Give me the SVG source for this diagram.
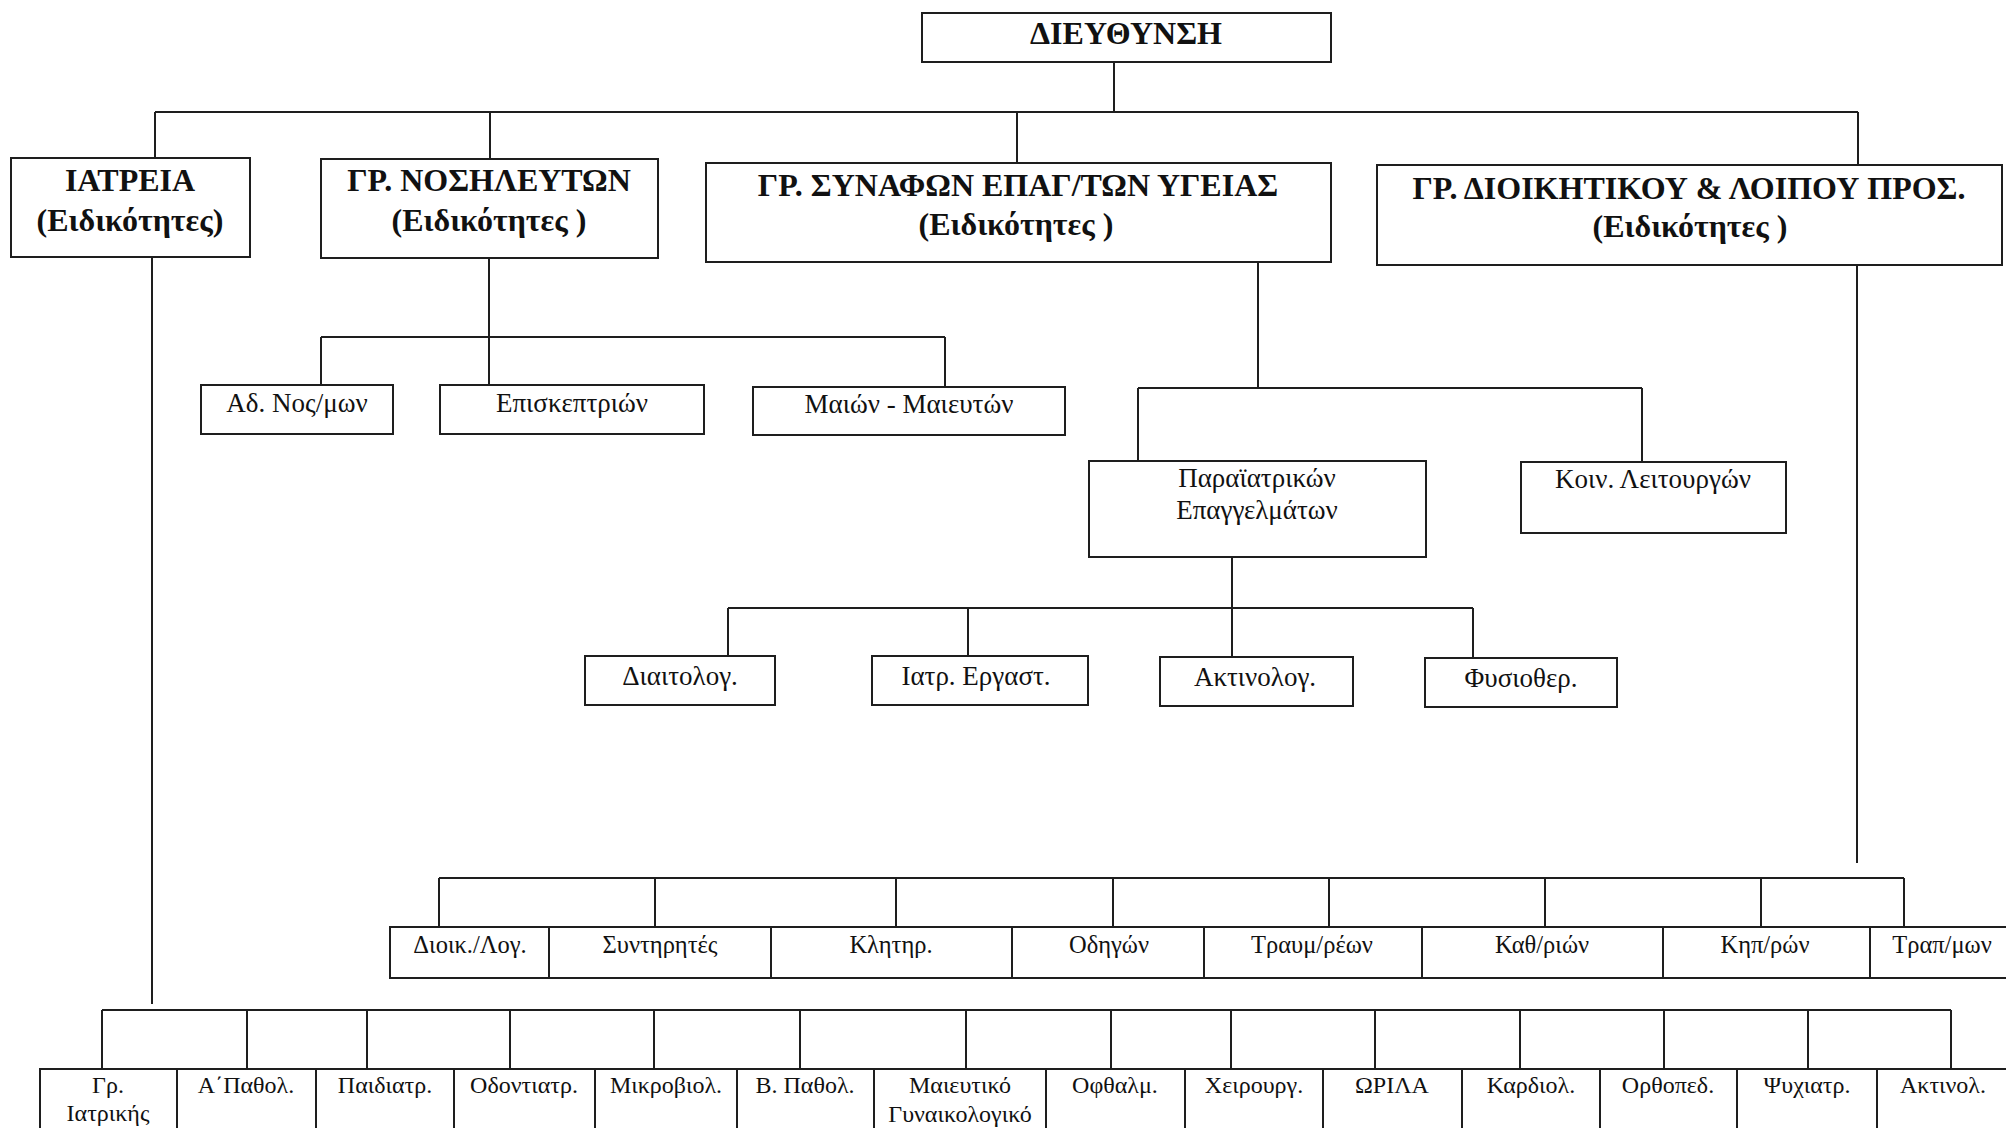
<svg xmlns="http://www.w3.org/2000/svg" width="2006" height="1128" viewBox="0 0 2006 1128">
<style>
.b{fill:#fff;stroke:#1e1e1e;stroke-width:2}
.c{fill:none;stroke:#1e1e1e;stroke-width:2}
.h{font-family:"Liberation Serif","Times New Roman",serif;font-weight:bold;font-size:32px;fill:#111;text-anchor:middle}
.t{font-family:"Liberation Serif","Times New Roman",serif;font-size:27px;fill:#111;text-anchor:middle}
.s{font-family:"Liberation Serif","Times New Roman",serif;font-size:24.5px;fill:#111;text-anchor:middle}
.m{font-family:"Liberation Serif","Times New Roman",serif;font-size:24px;fill:#111;text-anchor:middle}
</style>
<rect width="2006" height="1128" fill="#fff"/>
<g id="connectors">
<path class="c" d="M1114 62V112M155 112H1858M155 112V158M490 112V159M1017 112V163M1858 112V165"/>
<path class="c" d="M489 258V385M321 337H945M321 337V385M945 337V387"/>
<path class="c" d="M1258 262V388M1138 388H1642M1138 388V461M1642 388V462"/>
<path class="c" d="M1232 557V608M728 608H1473M728 608V656M968 608V656M1232 608V657M1473 608V658"/>
<path class="c" d="M1857 265V863M439 878H1904M439 878V927M655 878V927M896 878V927M1113 878V927M1329 878V927M1545 878V927M1761 878V927M1904 878V927"/>
<path class="c" d="M152 257V1004M102 1010H1951M102 1010V1069M247 1010V1069M367 1010V1069M510 1010V1069M654 1010V1069M800 1010V1069M966 1010V1069M1111 1010V1069M1231 1010V1069M1375 1010V1069M1520 1010V1069M1664 1010V1069M1808 1010V1069M1951 1010V1069"/>
</g>
<g id="dieuthynsi"><rect class="b" x="922" y="13" width="409" height="49"/><text class="h" x="1126" y="44">ΔΙΕΥΘΥΝΣΗ</text></g>
<g id="iatreia"><rect class="b" x="11" y="158" width="239" height="99"/><text class="h" x="130" y="191">ΙΑΤΡΕΙΑ</text><text class="h" x="130" y="231">(Ειδικότητες)</text></g>
<g id="nosileyton"><rect class="b" x="321" y="159" width="337" height="99"/><text class="h" x="489" y="191">ΓΡ. ΝΟΣΗΛΕΥΤΩΝ</text><text class="h" x="489" y="231">(Ειδικότητες )</text></g>
<g id="synafon"><rect class="b" x="706" y="163" width="625" height="99"/><text class="h" x="1018" y="196">ΓΡ. ΣΥΝΑΦΩΝ ΕΠΑΓ/ΤΩΝ ΥΓΕΙΑΣ</text><text class="h" x="1016" y="235">(Ειδικότητες )</text></g>
<g id="dioikitikou"><rect class="b" x="1377" y="165" width="625" height="100"/><text class="h" x="1689" y="199">ΓΡ. ΔΙΟΙΚΗΤΙΚΟΥ &amp; ΛΟΙΠΟΥ ΠΡΟΣ.</text><text class="h" x="1690" y="237">(Ειδικότητες )</text></g>
<g id="ad-nos"><rect class="b" x="201" y="385" width="192" height="49"/><text class="t" x="297" y="412">Αδ. Νος/μων</text></g>
<g id="episkeptrion"><rect class="b" x="440" y="385" width="264" height="49"/><text class="t" x="572" y="412">Επισκεπτριών</text></g>
<g id="maion"><rect class="b" x="753" y="387" width="312" height="48"/><text class="t" x="909" y="413">Μαιών - Μαιευτών</text></g>
<g id="paraiatrikon"><rect class="b" x="1089" y="461" width="337" height="96"/><text class="t" x="1257" y="487">Παραϊατρικών</text><text class="t" x="1257" y="519">Επαγγελμάτων</text></g>
<g id="koin-leitourgon"><rect class="b" x="1521" y="462" width="265" height="71"/><text class="t" x="1653" y="488">Κοιν. Λειτουργών</text></g>
<g id="diaitolog"><rect class="b" x="585" y="656" width="190" height="49"/><text class="t" x="680" y="685">Διαιτολογ.</text></g>
<g id="iatr-ergast"><rect class="b" x="872" y="656" width="216" height="49"/><text class="t" x="976" y="685">Ιατρ. Εργαστ.</text></g>
<g id="aktinolog"><rect class="b" x="1160" y="657" width="193" height="49"/><text class="t" x="1255" y="686">Ακτινολογ.</text></g>
<g id="fysiother"><rect class="b" x="1425" y="658" width="192" height="49"/><text class="t" x="1521" y="687">Φυσιοθερ.</text></g>
<g id="dioik-log"><rect class="b" x="390" y="927" width="159" height="51"/><text class="s" x="470" y="953">Διοικ./Λογ.</text></g>
<g id="syntirites"><rect class="b" x="549" y="927" width="222" height="51"/><text class="s" x="660" y="953">Συντηρητές</text></g>
<g id="klitir"><rect class="b" x="771" y="927" width="241" height="51"/><text class="s" x="891" y="953">Κλητηρ.</text></g>
<g id="odigon"><rect class="b" x="1012" y="927" width="192" height="51"/><text class="s" x="1109" y="953">Οδηγών</text></g>
<g id="traumreon"><rect class="b" x="1204" y="927" width="218" height="51"/><text class="s" x="1312" y="953">Τραυμ/ρέων</text></g>
<g id="kathrion"><rect class="b" x="1422" y="927" width="241" height="51"/><text class="s" x="1542" y="953">Καθ/ριών</text></g>
<g id="kiprón"><rect class="b" x="1663" y="927" width="207" height="51"/><text class="s" x="1765" y="953">Κηπ/ρών</text></g>
<g id="trapmon"><rect class="b" x="1870" y="927" width="150" height="51"/><text class="s" x="1942" y="953">Τραπ/μων</text></g>
<g id="gr-iatrikis"><rect class="b" x="40" y="1069" width="137" height="70"/><text class="m" x="108" y="1093">Γρ.</text><text class="m" x="108" y="1121">Ιατρικής</text></g>
<g id="a-pathol"><rect class="b" x="177" y="1069" width="139" height="70"/><text class="m" x="246" y="1093">Α΄Παθολ.</text></g>
<g id="paidiatr"><rect class="b" x="316" y="1069" width="138" height="70"/><text class="m" x="385" y="1093">Παιδιατρ.</text></g>
<g id="odontiatr"><rect class="b" x="454" y="1069" width="141" height="70"/><text class="m" x="524" y="1093">Οδοντιατρ.</text></g>
<g id="mikroviol"><rect class="b" x="595" y="1069" width="142" height="70"/><text class="m" x="666" y="1093">Μικροβιολ.</text></g>
<g id="b-pathol"><rect class="b" x="737" y="1069" width="137" height="70"/><text class="m" x="805" y="1093">Β. Παθολ.</text></g>
<g id="maieutiko"><rect class="b" x="874" y="1069" width="172" height="70"/><text class="m" x="960" y="1093">Μαιευτικό</text><text class="m" x="960" y="1122">Γυναικολογικό</text></g>
<g id="ofthalm"><rect class="b" x="1046" y="1069" width="139" height="70"/><text class="m" x="1115" y="1093">Οφθαλμ.</text></g>
<g id="xeirourg"><rect class="b" x="1185" y="1069" width="138" height="70"/><text class="m" x="1254" y="1093">Χειρουργ.</text></g>
<g id="orila"><rect class="b" x="1323" y="1069" width="139" height="70"/><text class="m" x="1392" y="1093">ΩΡΙΛΑ</text></g>
<g id="kardiol"><rect class="b" x="1462" y="1069" width="138" height="70"/><text class="m" x="1531" y="1093">Καρδιολ.</text></g>
<g id="orthoped"><rect class="b" x="1600" y="1069" width="137" height="70"/><text class="m" x="1668" y="1093">Ορθοπεδ.</text></g>
<g id="psyxiatr"><rect class="b" x="1737" y="1069" width="140" height="70"/><text class="m" x="1807" y="1093">Ψυχιατρ.</text></g>
<g id="aktinol"><rect class="b" x="1877" y="1069" width="140" height="70"/><text class="m" x="1943" y="1093">Ακτινολ.</text></g>
</svg>
